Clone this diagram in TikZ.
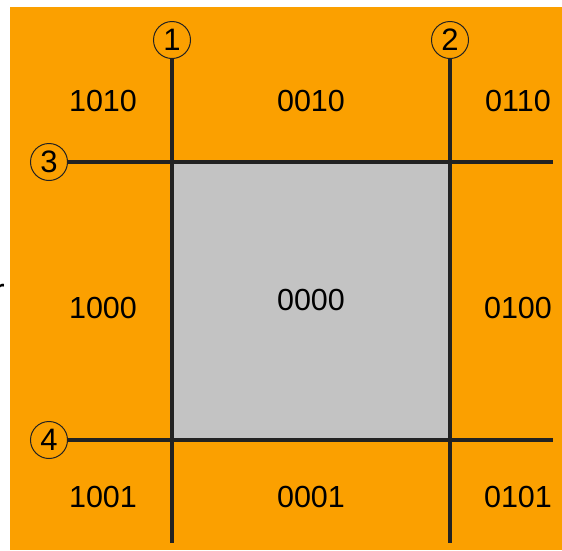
\documentclass[tikz,border=0pt]{standalone}
\usepackage{fontspec}
\setmainfont{Liberation Sans}
\definecolor{bgorange}{HTML}{FBA000}
\definecolor{midgray}{HTML}{C3C3C3}
\definecolor{linecol}{HTML}{222222}
\begin{document}
\begin{tikzpicture}[x=1pt,y=-1pt,
  code/.style={font=\fontsize{30.5}{30.5}\selectfont, inner sep=0pt, anchor=center},
  numcirc/.style={circle, draw=linecol, line width=1pt, minimum size=37pt, inner sep=0pt, font=\fontsize{31}{31}\selectfont},
  clipline/.style={draw=linecol, line width=3.4pt}]
\useasboundingbox (0,0) rectangle (562,550);
\fill[bgorange] (10,7) rectangle (562,550);
\fill[midgray] (172,162) rectangle (450,440);
% circles
\node[numcirc] (c1) at (172,40) {1};
\node[numcirc] (c2) at (450,40) {2};
\node[numcirc] (c3) at (49,162) {3};
\node[numcirc] (c4) at (49,440) {4};
\coordinate (e1) at (172,543);
\coordinate (e2) at (450,543);
\coordinate (e3) at (553,162);
\coordinate (e4) at (553,440);
\draw[clipline] (c1.south) -- (e1);
\draw[clipline] (c2.south) -- (e2);
\draw[clipline] (c3.east) -- (e3);
\draw[clipline] (c4.east) -- (e4);
% region codes
\node[code] (r1010) at (103,101) {1010};
\node[code] (r0010) at (311,101) {0010};
\node[code] (r0110) at (518,101) {0110};
\node[code] (r1000) at (103,308) {1000};
\node[code] (r0000) at (311,300) {0000};
\node[code] (r0100) at (518,308) {0100};
\node[code] (r1001) at (103,497) {1001};
\node[code] (r0001) at (311,497) {0001};
\node[code] (r0101) at (518,497) {0101};
\node[font=\fontsize{34}{34}\selectfont, inner sep=0pt, anchor=base east] (rr) at (5,302) {r};
\end{tikzpicture}
\end{document}
